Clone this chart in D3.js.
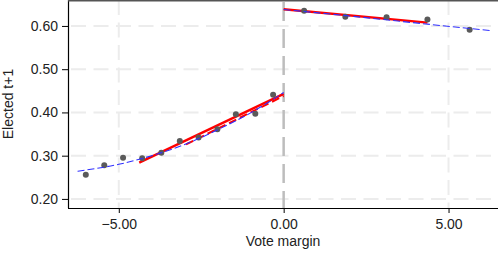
<!DOCTYPE html>
<html>
<head>
<meta charset="utf-8">
<script src="https://cdn.jsdelivr.net/npm/d3@7"></script>
<style>
  html, body { margin: 0; padding: 0; background: #fff; }
  svg { display: block; font-family: "Liberation Sans", Arial, sans-serif; }
</style>
</head>
<body>
<svg id="chart" width="498" height="255"></svg>
<script>
(function() {
    'use strict';

    // binned means
    const binLeftX = [-6.00, -5.44, -4.87, -4.29, -3.71, -3.15, -2.58, -2.01, -1.45, -0.86, -0.32];
    const binLeftY = [0.256, 0.278, 0.295, 0.294, 0.307, 0.334, 0.342, 0.361, 0.396, 0.397, 0.441];
    const binRightX = [0.62, 1.87, 3.12, 4.36, 5.64];
    const binRightY = [0.635, 0.621, 0.620, 0.615, 0.591];

    // global polynomial fit (blue, dashed)
    const fitLeftX = [-6.25, -5, -4, -3, -2, -1, 0];
    const fitLeftY = [0.264, 0.280, 0.300, 0.326, 0.360, 0.399, 0.446];
    const fitRightX = [0, 2, 4, 6.3];
    const fitRightY = [0.638, 0.623, 0.607, 0.589];

    // local linear fits (red)
    const llLeftX = [-4.38, 0];
    const llLeftY = [0.284, 0.443];
    const llRightX = [0, 4.36];
    const llRightY = [0.6385, 0.6076];
    const llNarrowX = [-2.96, 0];
    const llNarrowY = [0.326, 0.438];

    const xTicks = [-5, 0, 5];
    const yTicks = [0.2, 0.3, 0.4, 0.5, 0.6];

    const svg = d3.select('#chart');
    const left = 68, right = 498, top = 0, bottom = 208;

    const x = d3.scaleLinear().domain([-6.54, 6.5]).range([left, right]);
    const y = d3.scaleLinear().domain([0.179, 0.66]).range([bottom, top]);

    const zip = (xs, ys) => xs.map((v, i) => [v, ys[i]]);

    // grid
    const grid = svg.append('g');
    grid.selectAll('line.hy')
        .data(yTicks)
        .enter()
        .append('line')
        .attr('x1', left).attr('x2', right)
        .attr('y1', d => y(d)).attr('y2', d => y(d))
        .attr('stroke', '#ececec')
        .attr('stroke-width', 2)
        .attr('stroke-dasharray', '15,7.5')
        .attr('stroke-dashoffset', -3);
    grid.selectAll('line.vx')
        .data(xTicks.filter(d => d !== 0))
        .enter()
        .append('line')
        .attr('x1', d => x(d)).attr('x2', d => x(d))
        .attr('y1', top).attr('y2', bottom)
        .attr('stroke', '#ececec')
        .attr('stroke-width', 2)
        .attr('stroke-dasharray', '15,7.5');

    // cutoff line
    svg.append('line')
        .attr('x1', x(0)).attr('x2', x(0))
        .attr('y1', top).attr('y2', bottom)
        .attr('stroke', '#bdbdbd')
        .attr('stroke-width', 2.5)
        .attr('stroke-dasharray', '19,8')
        .attr('stroke-dashoffset', -2);

    // axes
    const xAxis = svg.append('g')
        .attr('transform', `translate(0,${bottom})`)
        .call(d3.axisBottom(x).tickValues(xTicks).tickSize(5).tickPadding(6).tickFormat(d3.format('.2f')));
    const yAxis = svg.append('g')
        .attr('transform', `translate(${left},0)`)
        .call(d3.axisLeft(y).tickValues(yTicks).tickSize(6).tickPadding(4).tickFormat(d3.format('.2f')));
    [xAxis, yAxis].forEach(a => {
        a.select('.domain').attr('stroke', '#000').attr('stroke-width', 1.2);
        a.selectAll('.tick line').attr('stroke', '#000');
        a.selectAll('.tick text')
            .attr('fill', '#222')
            .style('font-size', '14px')
            .style('font-family', '"Liberation Sans", Arial, sans-serif');
    });
    xAxis.select('.domain').attr('d', `M${left},0.5H${right}`);
    yAxis.select('.domain').attr('d', `M0.5,${top}V${bottom}`);

    // top frame
    svg.append('line')
        .attr('x1', left).attr('x2', right)
        .attr('y1', 0.75).attr('y2', 0.75)
        .attr('stroke', '#555')
        .attr('stroke-width', 1.5);

    const line = d3.line().x(d => x(d[0])).y(d => y(d[1]));
    const smooth = d3.line().x(d => x(d[0])).y(d => y(d[1])).curve(d3.curveMonotoneX);

    // red local fits
    [zip(llLeftX, llLeftY), zip(llRightX, llRightY)].forEach(seg => {
        svg.append('path')
            .attr('d', line(seg))
            .attr('fill', 'none')
            .attr('stroke', '#ff0000')
            .attr('stroke-width', 2.4);
    });
    svg.append('path')
        .attr('d', line(zip(llNarrowX, llNarrowY)))
        .attr('fill', 'none')
        .attr('stroke', '#ff0000')
        .attr('stroke-width', 2)
        .attr('stroke-dasharray', '8,4');

    // points
    svg.append('g')
        .selectAll('circle')
        .data(zip(binLeftX, binLeftY).concat(zip(binRightX, binRightY)))
        .enter()
        .append('circle')
        .attr('cx', d => x(d[0]))
        .attr('cy', d => y(d[1]))
        .attr('r', 3)
        .attr('fill', '#5a5a5a');

    // blue global fits
    [zip(fitLeftX, fitLeftY), zip(fitRightX, fitRightY)].forEach(seg => {
        svg.append('path')
            .attr('d', smooth(seg))
            .attr('fill', 'none')
            .attr('stroke', '#3030ff')
            .attr('stroke-width', 1.1)
            .attr('stroke-dasharray', '7,3');
    });

    // titles
    svg.append('text')
        .attr('x', (left + right) / 2)
        .attr('y', 246)
        .attr('text-anchor', 'middle')
        .style('font-size', '14px')
        .attr('fill', '#222')
        .text('Vote margin');
    svg.append('text')
        .attr('transform', `translate(13,${(top + bottom) / 2}) rotate(-90)`)
        .attr('text-anchor', 'middle')
        .style('font-size', '14px')
        .attr('fill', '#222')
        .text('Elected t+1');
})();
</script>
</body>
</html>
